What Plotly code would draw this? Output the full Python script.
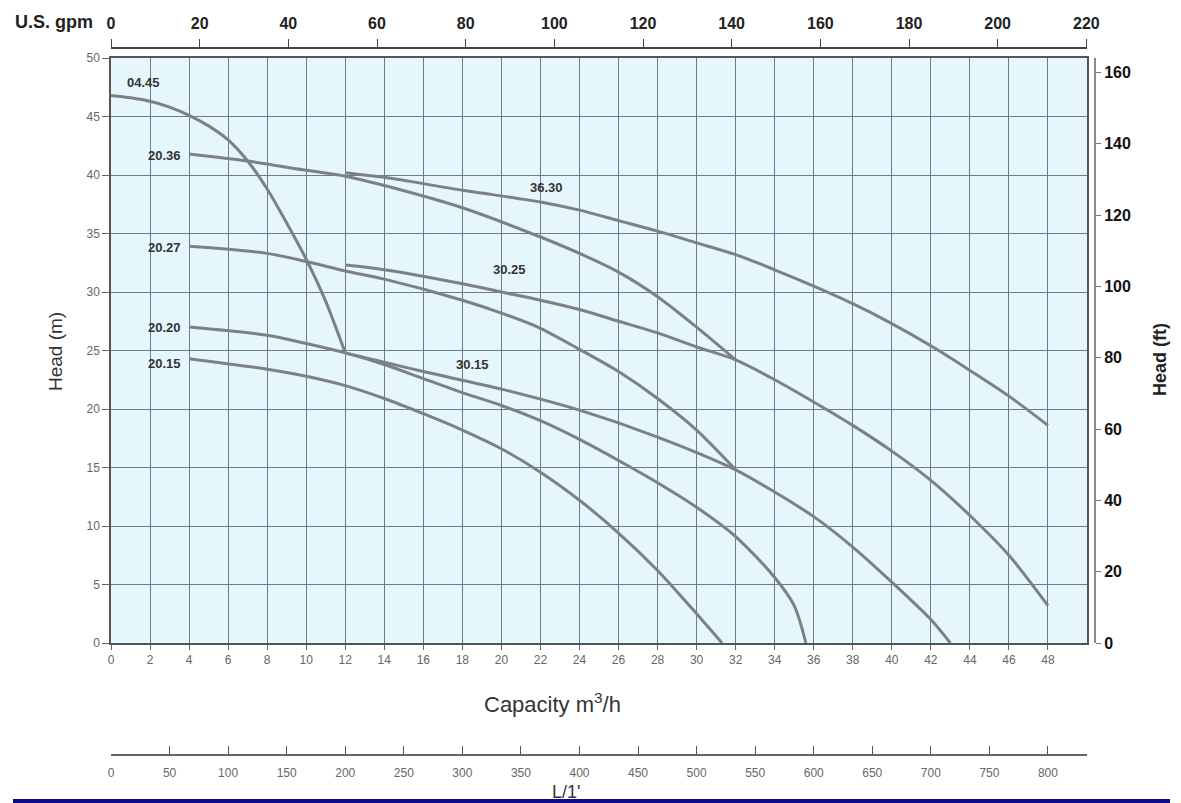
import plotly.graph_objects as go

# ---------------- data ----------------
# capacity in m3/h, head in m
q_0445 = [0, 1, 2, 3, 4, 5, 6, 7, 8, 9, 10, 11, 12]
h_0445 = [46.8, 46.6, 46.3, 45.8, 45.1, 44.2, 43.0, 41.2, 38.8, 35.9, 32.8, 29.2, 24.8]

q_2036 = [4, 7, 10, 12, 14, 18, 22, 24, 26, 28, 30, 32]
h_2036 = [41.8, 41.2, 40.4, 39.9, 39.1, 37.2, 34.7, 33.3, 31.7, 29.6, 27.0, 24.2]

q_3630 = [12, 14, 18, 22, 24, 26, 28, 30, 32, 34, 36, 38, 40, 42, 44, 46, 48]
h_3630 = [40.2, 39.8, 38.7, 37.7, 37.0, 36.1, 35.2, 34.2, 33.2, 31.9, 30.5, 29.0, 27.3, 25.4, 23.3, 21.1, 18.6]

q_2027 = [4, 8, 10, 12, 14, 18, 20, 22, 24, 26, 28, 30, 32]
h_2027 = [33.9, 33.3, 32.6, 31.8, 31.1, 29.3, 28.2, 26.9, 25.1, 23.2, 20.9, 18.2, 14.8]

q_3025 = [12, 14, 18, 20, 22, 24, 26, 28, 30, 32, 34, 36, 38, 40, 42, 44, 46, 48]
h_3025 = [32.3, 31.9, 30.7, 30.0, 29.3, 28.5, 27.5, 26.5, 25.3, 24.2, 22.5, 20.6, 18.6, 16.4, 13.9, 10.9, 7.5, 3.2]

q_2020 = [4, 8, 10, 12, 14, 16, 18, 20, 22, 24, 26, 28, 30, 32, 34, 35, 35.6]
h_2020 = [27.0, 26.3, 25.6, 24.8, 23.8, 22.6, 21.4, 20.3, 19.0, 17.4, 15.6, 13.7, 11.6, 9.1, 5.6, 3.2, 0]

q_3015 = [12, 14, 16, 20, 24, 28, 32, 34, 36, 38, 40, 42, 43]
h_3015 = [24.8, 24.0, 23.2, 21.7, 19.9, 17.6, 14.8, 12.9, 10.8, 8.2, 5.2, 2.0, 0]

q_2015 = [4, 8, 10, 12, 14, 16, 18, 20, 22, 24, 26, 28, 30, 31.3]
h_2015 = [24.3, 23.4, 22.8, 22.0, 20.9, 19.6, 18.2, 16.6, 14.6, 12.2, 9.4, 6.2, 2.5, 0]

curve_names = ["04.45", "20.36", "36.30", "20.27", "30.25", "20.20", "30.15", "20.15"]
curve_q = [q_0445, q_2036, q_3630, q_2027, q_3025, q_2020, q_3015, q_2015]
curve_h = [h_0445, h_2036, h_3630, h_2027, h_3025, h_2020, h_3015, h_2015]

# label anchors (m3/h, m)
label_q = [1.65, 2.75, 22.3, 2.75, 20.4, 2.75, 18.5, 2.75]
label_h = [47.9, 41.7, 38.9, 33.8, 31.9, 27.0, 23.8, 23.9]

x_ticks = list(range(0, 49, 2))
y_ticks = list(range(0, 51, 5))
gpm_ticks = list(range(0, 221, 20))
lpm_ticks = list(range(0, 801, 50))
ft_ticks = list(range(0, 161, 20))

# ---------------- layout geometry ----------------
W, H = 1181, 803
ML, MR, MT, MB = 111, 86, 48, 48
PW, PH = W - ML - MR, H - MT - MB
PLOT_R, PLOT_T, PLOT_B = 1087, 58, 643


def px(xp):
    return (xp - ML) / PW


def py(yp):
    return (H - MB - yp) / PH


FONT = "Liberation Sans, Arial, sans-serif"
CURVE = "#7c8187"
GRID = "#6f7c87"
XMAX = 50.0

fig = go.Figure()
for name, qs, hs in zip(curve_names, curve_q, curve_h):
    fig.add_trace(go.Scatter(x=qs, y=hs, mode="lines", name=name,
                             line=dict(color=CURVE, width=3, shape="spline", smoothing=0.8),
                             showlegend=False, hoverinfo="skip"))

# invisible traces for the secondary axes
fig.add_trace(go.Scatter(x=[0], y=[0], xaxis="x2", yaxis="y", mode="none", showlegend=False))
fig.add_trace(go.Scatter(x=[0], y=[0], xaxis="x3", yaxis="y", mode="none", showlegend=False))
fig.add_trace(go.Scatter(x=[0], y=[0], xaxis="x", yaxis="y2", mode="none", showlegend=False))

xdom = [0, px(PLOT_R)]
ydom = [py(PLOT_B), py(PLOT_T)]

fig.update_layout(
    width=W, height=H,
    margin=dict(l=ML, r=MR, t=MT, b=MB, pad=0),
    paper_bgcolor="white",
    plot_bgcolor="#e6f6fd",
    font=dict(family=FONT, color="#333"),
    xaxis=dict(domain=xdom, range=[0, XMAX], tickvals=x_ticks, showgrid=True,
               gridcolor=GRID, gridwidth=1.2, ticks="outside", ticklen=5,
               tickcolor="#666", tickfont=dict(size=12, color="#666"),
               showline=True, linecolor="#555", linewidth=1.5, mirror=True,
               zeroline=False, anchor="y"),
    yaxis=dict(domain=ydom, range=[0, 50], tickvals=y_ticks, showgrid=True,
               gridcolor=GRID, gridwidth=1.2, ticks="outside", ticklen=7,
               tickcolor="#666", tickfont=dict(size=12, color="#666"),
               showline=True, linecolor="#555", linewidth=1.5, mirror=True,
               zeroline=False, anchor="x"),
    xaxis2=dict(overlaying="x", anchor="free", position=1, side="top",
                range=[0, XMAX * 4.403], tickvals=gpm_ticks, showgrid=False,
                ticks="outside", ticklen=8, tickcolor="#444", ticklabelstandoff=4,
                tickfont=dict(size=16, color="#222", weight="bold"),
                showline=True, linecolor="#444", linewidth=2, zeroline=False),
    xaxis3=dict(overlaying="x", anchor="free", position=0, side="bottom",
                range=[0, XMAX * 1000 / 60], tickvals=lpm_ticks, showgrid=False,
                ticks="inside", ticklen=8, tickcolor="#555", ticklabelstandoff=7,
                tickfont=dict(size=12, color="#666"),
                showline=True, linecolor="#666", linewidth=1.5, zeroline=False),
    yaxis2=dict(overlaying="y", anchor="free", position=1, side="right",
                range=[0, 50 * 3.2808], tickvals=ft_ticks, showgrid=False,
                ticks="outside", ticklen=5, tickcolor="#777",
                tickfont=dict(size=16, color="#111", weight="bold"),
                showline=True, linecolor="#8a8a8a", linewidth=2, zeroline=False),
)

ann = []
for name, lq, lh in zip(curve_names, label_q, label_h):
    ann.append(dict(x=lq, y=lh, xref="x", yref="y", text="<b>" + name + "</b>",
                    showarrow=False, font=dict(size=13, color="#333")))

common = dict(xref="paper", yref="paper", showarrow=False, xanchor="center", yanchor="middle")
ann += [
    dict(x=px(54), y=py(22), text="<b>U.S. gpm</b>",
         font=dict(size=18, color="#222"), **common),
    dict(x=px(55), y=py(352), text="Head (m)", textangle=-90,
         font=dict(size=19, color="#333"), **common),
    dict(x=px(1160), y=py(360), text="<b>Head (ft)</b>", textangle=-90,
         font=dict(size=18, color="#222"), **common),
    dict(x=px(552), y=py(703), text="Capacity m<sup>3</sup>/h",
         font=dict(size=22, color="#333"), **common),
    dict(x=px(566), y=py(792), text="L/1'",
         font=dict(size=18, color="#333"), **common),
]
fig.update_layout(annotations=ann)

fig.add_shape(type="rect", xref="paper", yref="paper",
              x0=px(13), x1=px(1170), y0=py(803), y1=py(799),
              fillcolor="#0b0b8c", line=dict(width=0), layer="above")

fig.write_html("out.html", config={"displayModeBar": False},
               post_script="document.body.style.margin='0';")
